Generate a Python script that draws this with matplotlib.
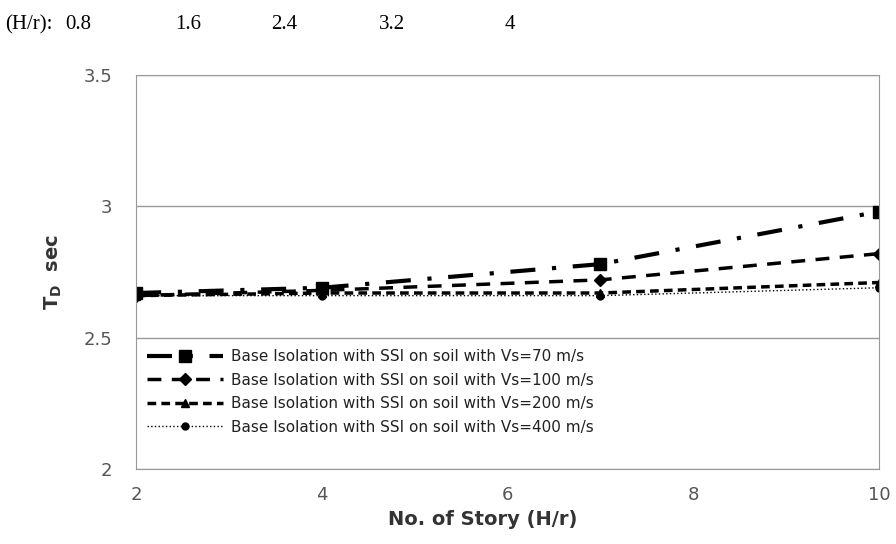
import matplotlib
matplotlib.use("Agg")
import matplotlib.pyplot as plt

stories = [2, 4, 7, 10]
td_vs70 = [2.67, 2.69, 2.78, 2.98]
td_vs100 = [2.66, 2.68, 2.72, 2.82]
td_vs200 = [2.66, 2.67, 2.67, 2.71]
td_vs400 = [2.66, 2.66, 2.66, 2.69]
hr_labels = ["0.8", "1.6", "2.4", "3.2", "4"]
legend_names = ["Base Isolation with SSI on soil with Vs=70 m/s",
                "Base Isolation with SSI on soil with Vs=100 m/s",
                "Base Isolation with SSI on soil with Vs=200 m/s",
                "Base Isolation with SSI on soil with Vs=400 m/s"]

fig = plt.figure(figsize=(8.96, 5.44), dpi=100)
ax = fig.add_axes([0.152, 0.138, 0.829, 0.724])

ax.plot(stories, td_vs70, color="black", lw=3, ls=(0, (6, 4, 1, 4)), marker="s", ms=8, label=legend_names[0])
ax.plot(stories, td_vs100, color="black", lw=2.5, ls=(0, (4, 3)), marker="D", ms=6, label=legend_names[1])
ax.plot(stories, td_vs200, color="black", lw=2.5, ls=(0, (2.5, 1.5)), marker="^", ms=6, label=legend_names[2])
ax.plot(stories, td_vs400, color="black", lw=1, ls=":", marker="o", ms=5, label=legend_names[3])

ax.set_xlim(2, 10)
ax.set_ylim(2, 3.5)
ax.set_xticks([2, 4, 6, 8, 10])
ax.set_yticks([2, 2.5, 3, 3.5])
ax.set_yticklabels(["2", "2.5", "3", "3.5"])
ax.yaxis.grid(True, color="#999999", lw=1)
ax.set_axisbelow(True)
for s in ax.spines.values():
    s.set_color("#999999")
ax.tick_params(length=0, labelsize=13, labelcolor="#555555")
ax.tick_params(axis="x", pad=12)
ax.tick_params(axis="y", pad=17)

ax.set_xlabel("No. of Story (H/r)", fontsize=14, fontweight="bold", color="#333333")
ax.xaxis.set_label_coords(0.467, -0.105)
ax.set_ylabel("T$_\\mathbf{D}$  sec", fontsize=14, fontweight="bold", color="#333333", labelpad=14)

leg = ax.legend(loc="lower left", bbox_to_anchor=(0.0, 0.06), frameon=False, fontsize=11,
                handlelength=5, numpoints=1, labelspacing=0.55, borderaxespad=0.3, handletextpad=0.5)
for t in leg.get_texts():
    t.set_color("#222222")

fig.text(0.006, 0.955, "(H/r):", fontsize=15, family="Liberation Serif", va="center")
hr_x = [0.073, 0.195, 0.303, 0.423, 0.563]
for xx, lab in zip(hr_x, hr_labels):
    fig.text(xx, 0.955, lab, fontsize=15, family="Liberation Serif", va="center")

fig.savefig("out.png", dpi=100)
